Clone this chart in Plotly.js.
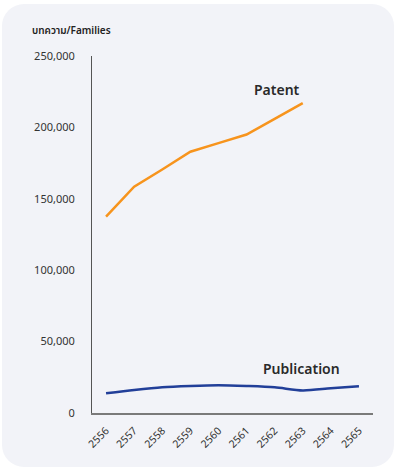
<!DOCTYPE html>
<html>
<head>
<meta charset="utf-8">
<script src="https://cdn.plot.ly/plotly-3.0.1.min.js"></script>
<style>
  html, body { margin: 0; padding: 0; background: #ffffff; }
  #panel { position: absolute; left: 2px; top: 4px; width: 392px; height: 463px; background: #f2f3f8; border-radius: 22px; }
  #chart { position: absolute; left: 0; top: 0; width: 396px; height: 470px; }
</style>
</head>
<body>
<div id="panel"></div>
<div id="chart"></div>
<script>
const years = ["2556","2557","2558","2559","2560","2561","2562","2563","2564","2565"];
const patentYears = ["2556","2557","2558","2559","2560","2561","2562","2563"];
const patentValues = [137500, 158500, 170500, 183000, 189000, 195000, 206000, 217000];
const publicationValues = [13800, 16100, 18000, 18900, 19400, 18900, 18000, 15800, 17300, 18700];
const yTickVals = [0, 50000, 100000, 150000, 200000, 250000];
const yTickText = ["0", "50,000", "100,000", "150,000", "200,000", "250,000"];
const yAxisLabel = "บทความ/Families";
const patentLabel = "Patent";
const publicationLabel = "Publication";

const font = "'Noto Sans', 'Noto Sans Thai', 'Noto Sans CJK SC', sans-serif";

const traces = [
  {
    x: patentYears, y: patentValues, type: "scatter", mode: "lines",
    line: { color: "#f7941d", width: 2.5 }, hoverinfo: "skip"
  },
  {
    x: years, y: publicationValues, type: "scatter", mode: "lines",
    line: { color: "#223f99", width: 2.5, shape: "spline", smoothing: 0.8 }, hoverinfo: "skip"
  }
];

const layout = {
  width: 396, height: 470,
  margin: { l: 92, r: 23, t: 56, b: 57 },
  paper_bgcolor: "rgba(0,0,0,0)",
  plot_bgcolor: "rgba(0,0,0,0)",
  showlegend: false,
  font: { family: font, color: "#333333", size: 11 },
  xaxis: {
    type: "category", categoryorder: "array", categoryarray: years,
    range: [-0.5, 9.5], showgrid: false, zeroline: false,
    showline: true, linecolor: "#7a7a7a", linewidth: 1.5,
    ticks: "", tickangle: -45, ticklabelstandoff: 6, tickfont: { size: 10.5, color: "#333" },
    fixedrange: true
  },
  yaxis: {
    range: [0, 250000], tickvals: yTickVals, ticktext: yTickText,
    showgrid: false, zeroline: false,
    showline: true, linecolor: "#555555", linewidth: 1,
    ticks: "", ticklabelstandoff: 14, tickfont: { size: 11, color: "#333" },
    fixedrange: true
  },
  annotations: [
    { text: yAxisLabel, xref: "paper", yref: "paper", x: -0.22, y: 1.0, yshift: 26,
      xanchor: "left", yanchor: "middle", showarrow: false,
      font: { family: font, size: 10, color: "#222", weight: 600 } },
    { text: patentLabel, xref: "paper", yref: "paper", x: 0.66, y: 0.905,
      xanchor: "center", yanchor: "middle", showarrow: false,
      font: { family: font, size: 14, color: "#2a2a2a", weight: 600 } },
    { text: publicationLabel, xref: "paper", yref: "paper", x: 0.745, y: 0.125,
      xanchor: "center", yanchor: "middle", showarrow: false,
      font: { family: font, size: 14, color: "#2a2a2a", weight: 600 } }
  ]
};

Plotly.newPlot("chart", traces, layout, { staticPlot: true, displayModeBar: false });
</script>
</body>
</html>
